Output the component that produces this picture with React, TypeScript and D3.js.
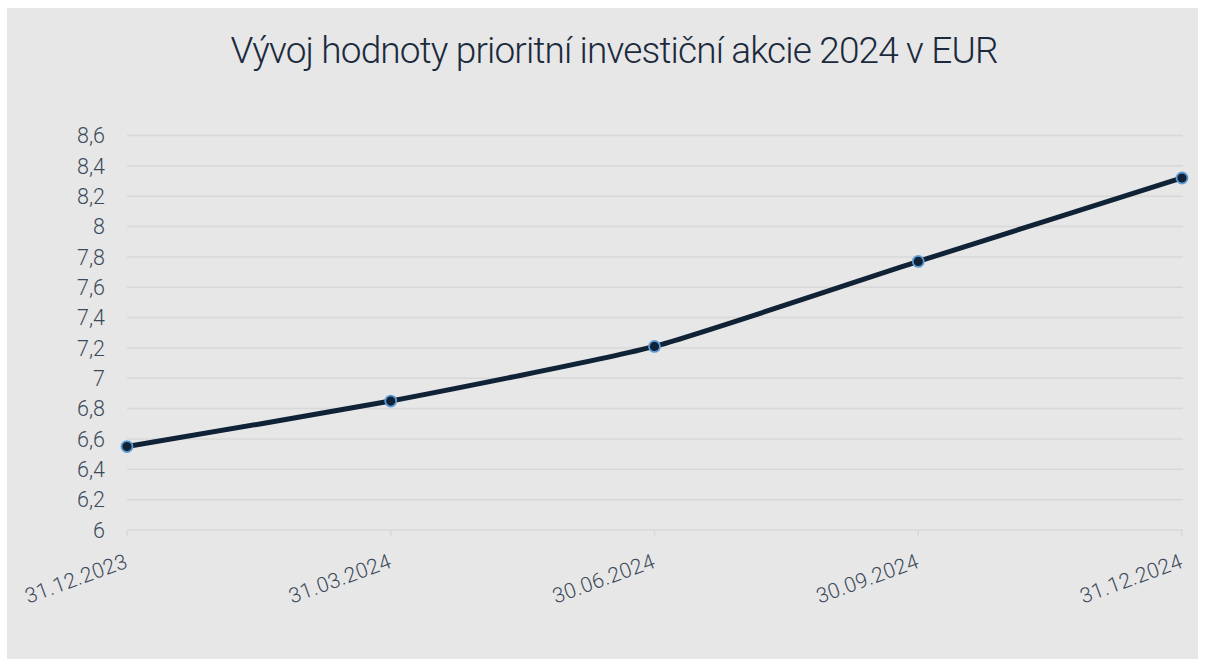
import React from "react";
import * as d3 from "d3";

const title = "Vývoj hodnoty prioritní investiční akcie 2024 v EUR";
const dates = ["31.12.2023", "31.03.2024", "30.06.2024", "30.09.2024", "31.12.2024"];
const values = [6.55, 6.85, 7.21, 7.77, 8.32];
const yTicks = [6, 6.2, 6.4, 6.6, 6.8, 7, 7.2, 7.4, 7.6, 7.8, 8, 8.2, 8.4, 8.6];

const W = 1206;
const H = 659;

export default function App() {
  const x = d3.scalePoint<string>().domain(dates).range([127, 1182]);
  const y = d3.scaleLinear().domain([6, 8.6]).range([530, 135.5]);
  const pts = dates.map((d, i) => [x(d) as number, y(values[i])] as [number, number]);
  const line = d3.line<[number, number]>().curve(d3.curveCardinal.tension(0.5))(pts) || "";
  const fmt = (v: number) => String(Math.round(v * 10) / 10).replace(".", ",");
  const font = "Roboto, 'Noto Sans', sans-serif";
  return (
    <svg width={W} height={H} style={{ position: "absolute", left: 0, top: 0 }}>
      <rect x={0} y={0} width={W} height={H} fill="#ffffff" />
      <rect x={7} y={8} width={1191} height={651} fill="#e7e7e7" />
      <text x={614} y={63} textAnchor="middle" fontFamily={font} fontWeight={300} fontSize={37} fill="#1b2a3c" letterSpacing={-0.85}>
        {title}
      </text>
      {yTicks.map((t) => (
        <g key={t}>
          <line x1={127} x2={1183} y1={y(t)} y2={y(t)} stroke="#d8d8d8" strokeWidth={1.5} />
          <text x={105} y={y(t)} dy="0.36em" textAnchor="end" fontFamily={font} fontWeight={300} fontSize={21.5} fill="#3c4a5a">
            {fmt(t)}
          </text>
        </g>
      ))}
      {dates.map((d) => (
        <g key={d}>
          <line x1={x(d)} x2={x(d)} y1={530} y2={536} stroke="#d8d8d8" strokeWidth={1.5} />
          <text
            transform={`translate(${(x(d) as number) + 2},${567}) rotate(-20)`}
            textAnchor="end"
            fontFamily={font}
            fontWeight={300}
            fontSize={21}
            letterSpacing={0.4}
            fill="#3c4a5a"
          >
            {d}
          </text>
        </g>
      ))}
      <path d={line} fill="none" stroke="#0f2236" strokeWidth={5} strokeLinejoin="round" />
      {pts.map((p, i) => (
        <circle key={i} cx={p[0]} cy={p[1]} r={5.5} fill="#0f2236" stroke="#5b9bd5" strokeWidth={1.8} />
      ))}
    </svg>
  );
}
